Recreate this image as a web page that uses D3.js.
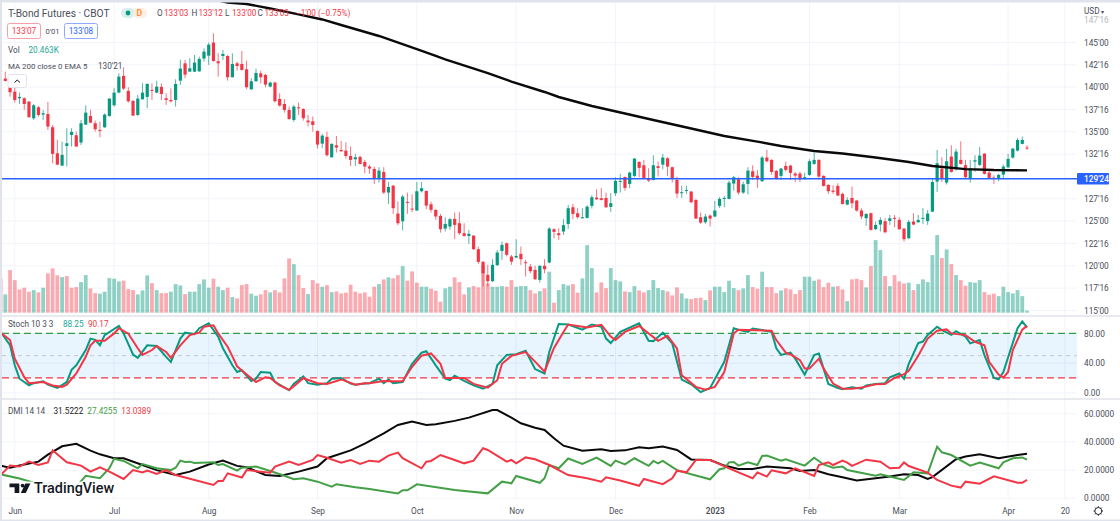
<!DOCTYPE html>
<html>
<head>
<meta charset="utf-8">
<script src="https://cdn.jsdelivr.net/npm/d3@7"></script>
<style>
  html, body { margin: 0; padding: 0; background: #fff; }
  svg { display: block; font-family: Roboto, "Noto Sans", sans-serif; }
  .axis path { display: none; }
  .axis text { fill: #4a4e59; font-size: 8.3px; font-family: Roboto, sans-serif; }
</style>
</head>
<body>
<div id="canvas"></div>
<script>
// OHLC, one entry per session (first one is cut by the left edge)
const opens = [
  141.8,140.96,139.99,139.50,138.76,138.76,138.38,136.52,137.75,136.93,
  137.0,135.51,132.60,131.22,133.42,134.65,134.62,133.80,135.81,136.78,
  135.96,135.21,135.51,136.78,137.97,139.39,141.26,139.58,138.46,136.89,
  138.64,138.91,139.69,139.39,140.03,138.76,138.57,138.57,140.73,142.67,
  141.74,141.74,141.78,143.20,143.53,144.99,142.90,143.49,143.49,141.11,
  142.67,142.60,142.0,139.76,140.66,141.55,141.37,140.06,140.51,138.68,
  138.12,137.45,136.33,137.75,137.56,136.26,136.18,135.10,133.68,134.43,
  132.15,133.50,132.97,132.90,132.30,131.93,132.19,131.63,131.11,130.85,
  129.80,130.51,128.20,128.98,125.85,124.99,127.16,126.41,126.19,128.35,
  128.39,126.89,126.26,125.59,124.17,124.40,125.25,124.77,123.65,123.35,
  123.39,121.86,120.44,118.99,118.28,120.07,121.67,122.53,121.04,120.93,
  121.34,120.40,119.92,119.55,118.43,120.0,120.37,124.10,123.65,123.84,
  124.69,126.56,125.89,125.33,125.37,126.71,127.64,127.57,127.60,126.60,
  128.13,129.43,129.95,129.17,130.07,131.63,131.26,129.77,129.62,131.15,
  131.33,132.04,131.04,129.62,128.13,128.39,128.31,127.38,125.44,124.88,
  125.63,125.52,126.71,127.53,127.49,129.21,129.69,128.20,129.17,130.59,
  130.10,129.47,132.12,131.86,130.62,130.07,131.18,131.22,130.33,130.33,
  129.84,130.18,131.41,131.86,130.07,129.06,128.42,128.95,128.05,126.86,
  127.60,127.31,126.19,125.33,125.89,124.10,124.62,124.99,125.03,125.37,
  125.14,124.17,123.09,124.96,124.88,125.29,125.0,126.07,129.43,130.89,
  129.32,132.23,130.81,131.86,131.26,129.77,131.67,131.30,132.56,130.44,
  129.88,129.84,130.21,131.03,132.12,132.90,133.65,133.24,
];
const closes = [
  141.7,140.70,139.43,138.57,138.91,138.12,136.63,137.97,136.89,137.08,
  135.59,132.53,131.33,132.42,133.72,134.99,133.35,135.96,137.15,136.03,
  135.29,135.17,136.93,138.72,139.39,141.18,139.84,138.42,136.82,138.72,
  139.39,140.36,139.61,140.06,139.24,138.57,138.42,140.36,142.08,141.40,
  142.11,142.75,143.16,143.98,144.76,142.93,142.67,143.72,141.11,142.60,
  142.37,141.93,139.99,140.66,141.59,141.11,140.29,140.51,138.42,137.94,
  137.45,136.44,137.82,137.67,136.52,136.07,135.77,133.57,134.58,132.38,
  133.65,133.24,132.83,132.30,131.86,132.15,131.41,131.11,130.89,129.80,
  130.66,128.20,128.83,126.45,124.77,127.75,127.08,126.37,128.35,128.69,
  126.75,126.26,125.52,124.10,124.69,125.22,124.58,123.65,123.35,123.58,
  121.86,120.44,119.17,118.28,120.11,121.49,122.35,121.23,120.48,121.11,
  120.74,120.37,119.40,118.50,120.0,119.62,124.17,123.80,123.43,124.55,
  126.45,125.81,125.44,125.44,126.63,127.68,127.45,127.38,126.56,127.01,
  129.51,129.51,128.72,130.44,132.0,130.96,129.84,129.54,131.26,130.96,
  132.12,131.11,129.77,128.09,128.24,128.50,127.12,125.29,124.84,125.52,
  125.29,126.19,127.49,127.60,129.32,129.92,128.20,129.13,130.66,129.95,
  129.69,132.12,131.71,130.51,129.73,130.89,130.74,130.40,130.10,129.69,
  129.92,131.71,131.86,129.99,128.95,128.35,128.28,127.87,126.93,127.38,
  127.01,126.19,125.52,125.81,124.02,124.58,125.14,123.76,125.33,125.29,
  124.10,122.98,124.92,124.62,125.14,125.37,125.85,129.39,131.48,129.77,
  131.71,130.51,132.79,131.41,129.92,130.92,131.82,132.34,130.29,129.84,
  129.80,130.18,131.11,131.97,133.12,134.09,134.09,133.20,
];
const highs = [
  141.85,141.74,141.0,139.99,139.39,138.87,138.46,138.12,137.90,137.45,
  138.35,135.77,134.09,133.91,135.40,135.40,135.03,136.33,137.97,137.45,
  136.26,136.15,137.08,138.76,139.87,141.55,142.23,139.99,138.57,139.13,
  140.43,140.43,140.43,140.73,140.43,139.32,139.87,140.88,143.05,143.05,
  143.23,143.60,143.42,144.35,144.99,146.03,143.79,144.17,143.60,143.79,
  142.86,144.05,142.97,141.0,142.08,141.85,141.48,140.62,140.62,139.32,
  138.64,137.82,138.01,138.27,137.64,136.89,136.71,135.14,134.77,135.03,
  133.72,134.54,133.98,133.83,133.35,132.53,132.34,131.86,131.30,131.11,
  131.04,131.04,129.39,129.02,127.19,127.94,128.20,128.01,129.39,129.39,
  128.42,127.19,126.37,125.81,125.44,125.37,125.96,126.0,124.77,124.02,
  123.39,122.16,120.55,120.11,120.74,121.78,122.72,122.61,121.23,122.98,
  122.16,120.67,120.22,120.0,120.07,120.74,124.32,124.21,124.21,125.22,
  126.82,126.93,126.45,126.45,126.78,127.90,128.57,128.72,128.20,128.13,
  129.92,130.29,129.99,130.55,132.08,131.71,131.86,130.92,132.38,131.67,
  132.53,132.15,131.11,129.99,128.98,128.98,128.39,127.45,125.96,125.81,
  125.74,127.27,127.68,127.83,129.54,130.07,129.92,129.43,131.04,131.26,
  130.74,132.30,132.97,131.93,130.74,130.96,131.67,131.30,130.51,130.51,
  130.44,131.93,132.68,131.93,130.14,129.13,129.02,129.25,128.20,127.68,
  128.87,127.38,126.45,125.89,125.96,124.96,125.44,125.33,125.70,125.70,
  125.44,124.21,125.14,125.89,125.70,126.45,126.26,129.69,132.97,132.15,
  133.09,133.50,133.12,133.94,131.86,131.86,132.38,133.31,132.60,130.74,
  130.14,130.29,131.33,132.53,133.20,134.28,134.47,133.5,
];
const lows = [
  141.5,140.62,138.94,138.27,138.12,137.45,136.63,136.33,136.70,136.33,
  135.21,131.48,131.30,131.18,131.11,133.35,133.35,133.53,135.77,135.96,
  135.03,134.39,135.44,136.70,137.82,139.32,139.69,138.27,136.78,136.78,
  138.64,137.64,138.57,139.32,138.57,138.01,138.27,137.82,140.25,141.0,
  141.74,141.70,141.70,142.86,142.49,142.86,141.18,143.05,140.73,141.11,
  141.85,141.85,139.76,139.69,140.62,140.43,139.99,139.99,138.27,137.82,
  137.15,136.33,136.11,136.89,136.26,135.59,135.03,133.12,133.16,132.23,
  132.12,132.68,132.75,132.0,131.18,131.18,131.33,130.36,130.29,129.17,
  129.32,128.05,126.93,125.81,124.55,123.95,125.81,126.0,126.15,128.20,
  126.34,125.96,125.14,123.72,123.84,124.02,122.98,123.46,123.28,122.46,
  121.78,120.22,117.68,117.68,118.20,120.0,120.67,121.04,120.11,120.85,
  120.11,118.80,119.17,118.43,118.13,119.17,120.29,123.09,122.90,123.46,
  124.13,125.22,125.29,125.29,125.29,126.41,127.38,127.31,126.48,126.04,
  127.83,128.20,128.42,128.69,129.92,129.92,129.69,129.39,129.54,129.99,
  130.81,130.07,129.32,127.60,127.60,128.05,127.01,125.25,124.69,124.69,
  124.40,125.44,126.48,126.56,127.45,128.42,127.98,128.05,127.98,129.62,
  128.72,129.39,131.56,130.22,129.62,129.62,130.55,129.62,129.39,129.39,
  129.62,130.07,131.30,129.69,128.87,128.05,128.05,127.83,126.86,126.78,
  126.45,126.07,125.22,124.47,123.95,124.02,123.84,123.65,124.58,124.32,
  124.02,122.72,122.98,124.55,124.77,124.69,124.58,126.04,128.28,129.39,
  129.10,130.44,130.66,131.33,129.80,129.32,130.51,131.18,130.21,129.77,
  129.17,129.47,129.69,130.92,132.0,132.79,133.61,133.0,
];
// volume in thousands of contracts
const volumes = [
  343,183,426,326,233,250,210,226,203,250,
  393,443,373,356,366,250,256,306,376,243,
  196,190,210,346,340,313,320,236,226,183,
  223,373,296,226,196,196,210,286,273,186,
  210,210,286,333,250,340,260,226,250,156,
  143,276,286,190,170,183,226,203,226,203,
  343,543,486,376,246,186,326,293,260,276,
  206,213,193,200,280,210,193,203,160,260,
  286,333,353,343,376,466,320,413,300,260,
  260,240,220,110,243,260,353,306,183,253,
  266,253,476,293,260,260,266,260,326,260,
  266,266,226,193,216,243,410,100,226,286,
  273,286,200,343,676,446,203,303,246,446,
  326,313,213,206,266,223,203,226,326,246,
  226,213,173,253,193,143,136,146,150,126,
  223,260,260,206,320,246,226,243,376,256,
  240,410,256,256,196,223,243,233,186,226,
  360,360,320,333,256,300,260,266,233,116,
  333,340,326,253,466,726,626,366,266,376,
  313,293,300,226,286,333,306,576,776,546,
  633,486,376,326,270,306,300,326,206,180,
  190,166,260,206,193,226,166,20.463,
];
// the volume colour does not always follow the candle: G up, R down
const volumeDirs = [
  'RGRRRRRGRG','RRRGRRRGGR','RGGGGGRRRG','GGRGRRGGGR','GGGGGRGGRG','RRRGGRRGRR',
  'RRGRRGRRGR','GRRRRRRRRR','GRGRRGRRRG','GRRRGGRRRG','RRRRGGGRRG','GGRRGRGRGG',
  'GRRGGGRRRG','GGRGGRRGGG','GRRRGGRRRG','RGGGGGRGGR','RGRRRGRRRR','GGGRRRGRRG',
  'RRRGRGGRGR','RRGRGGGGGR','GRGRRGGGRR','RGGGGGGG',
].join('');

// indicator lines: [session, value] pairs read at the turning points
const ema200 = [
  [46,149.7],[48,149.48],[52,149.31],[57,148.81],[63,148.14],[68,147.58],[72,146.96],[80,145.73],
  [88,144.27],[92,143.49],[94,143.1],[103,141.58],[108,140.63],[115,139.46],[118,138.9],[125,137.89],
  [132,137.05],[138,136.32],[146,135.37],[153,134.53],[160,133.91],[165,133.41],[172,132.85],
  [178,132.57],[185,132.12],[192,131.62],[197,131.17],[204,130.83],[210,130.72],[217,130.69],
];
const stochK = [
  [0,82],[2,64],[3,37],[4,19],[6,10],[7,13],[9,15.5],[10,11],[12,6.5],[14,14.6],[15,31],[16,37],
  [18,57.5],[19,73],[20,71.4],[21,64],[22,77.7],[25,90],[26,80],[28,51.6],[29,47],[31,64],[33,63],
  [35,48.4],[36,41.7],[38,73],[39,81],[41,79],[42,87],[44,93.5],[46,75.5],[47,60],[49,37],[50,28],
  [51,30.4],[53,16],[54,19],[55,28],[57,27],[58,14.6],[61,3.4],[62,12.4],[64,22],[65,13],[67,11],
  [69,13],[70,19],[72,20],[74,12.4],[75,11],[77,12.4],[78,13],[80,19],[81,13],[82,18],[83,13],
  [85,14.6],[87,39],[89,54],[90,56],[92,37],[94,19],[95,17],[96,23],[98,16],[100,10],[102,5.6],
  [104,12],[105,37],[107,51],[109,52],[111,56.5],[113,32],[115,26],[116,55],[118,92.6],[120,92],
  [123,85],[125,92],[127,89],[128,73],[129,67],[131,82],[135,93.5],[137,70],[138,69.6],[140,81],
  [142,66.5],[144,17.8],[146,11.5],[148,1],[150,6.5],[153,41.7],[155,86.8],[156,85],[158,82],
  [159,86.5],[161,84.5],[163,82],[164,60],[165,51],[167,54],[168,46],[170,24.5],[172,50.7],[173,53],
  [175,12],[177,6.5],[178,4.7],[180,7.4],[182,5.6],[183,10],[185,12],[187,13],[188,21],[190,26],
  [191,19],[192,39],[194,67],[195,69],[196,78],[198,89],[199,84.5],[201,78],[202,83],[204,75.5],
  [205,66.5],[207,71],[208,50.7],[210,20],[211,18],[212,28],[215,87],[216,96],[217,88.25],
];
const stochD = [
  [0,81],[2,71],[3,46],[5,21],[6,13],[9,14.5],[11,9.9],[13,8],[14,11],[16,26],[18,48.4],[19,64],
  [20,70],[22,70],[24,80],[25,87],[27,79.7],[29,60],[30,51],[32,57.6],[33,63],[35,55],[36,47],
  [38,64],[40,77.7],[42,81],[43,89],[45,91],[46,80],[48,62],[49,49],[50,35.7],[51,30],[54,14.6],
  [56,21],[57,20],[59,9.9],[61,3.9],[62,9],[64,19.6],[67,13],[69,12],[72,18],[75,10.9],[77,13],
  [78,13],[81,16],[83,15.5],[85,15.5],[87,35],[89,50],[91,53],[93,39],[94,20],[98,20],[100,12],
  [103,7],[105,17],[106,39],[108,49.7],[111,54.8],[113,42],[115,28.5],[117,60.4],[119,82],[120,92],
  [123,89],[124,88],[127,91.5],[129,75.7],[130,71],[132,82],[135,90],[139,70],[141,76.8],[143,59.7],
  [144,23.6],[147,8],[149,4.2],[151,8],[153,28],[155,80],[156,85],[163,83.6],[164,71],[166,54],
  [167,51.6],[169,44],[170,32.6],[171,32.6],[173,46],[174,32.6],[176,12.4],[178,5.6],[180,5.6],
  [182,7],[185,11.5],[187,12],[189,20],[191,25],[192,29.5],[194,50],[196,73],[198,83.6],[200,85.4],
  [201,80],[204,77.7],[206,68.7],[208,64],[209,41.7],[211,24.5],[212,20.5],[213,28],[214,57.5],
  [216,85],[217,90.17],
];
const adx = [
  [0,23.2],[2,21.7],[4,23.2],[8,26],[10,31],[13,36.9],[16,38.6],[19,33.8],[21,31.2],[24,28.4],
  [26,28.4],[30,23.6],[33,20],[37,16.5],[40,18.9],[44,24],[47,26.7],[50,23],[52,22],[56,16.5],
  [59,15.8],[63,18.9],[67,22.5],[69,28.4],[74,34],[77,38.8],[81,46.1],[84,52],[87,54.4],[90,52],
  [92,52.5],[96,54.9],[99,57.2],[104,62.6],[105,62.6],[108,57.2],[110,53.2],[113,50],[115,48.5],
  [117,42.6],[119,37.3],[123,33.8],[127,34.7],[129,33.6],[132,34],[135,36.2],[137,35.5],[140,36.7],
  [143,34.3],[146,27.6],[150,27.2],[153,23.2],[156,20.8],[159,20.8],[162,22.5],[167,21.3],[169,19.4],
  [172,20],[175,17],[178,14.9],[181,12.6],[185,14.2],[188,15.4],[191,17],[194,16.5],[196,13.7],
  [197,15],[202,27.7],[204,29.6],[207,31.2],[211,28.4],[215,30.7],[217,31.52],
];
const diPlus = [
  [0,17],[4,14],[7,11],[11,10.6],[16,8.3],[18,16],[21,14.2],[23,21.3],[24,28],[26,26.5],[29,21.3],
  [30,24.3],[33,21.3],[36,20],[37,21.7],[38,26.7],[39,25.8],[40,26],[41,25],[45,25.5],[46,23.6],
  [47,24.3],[50,19.6],[51,21.7],[54,22.5],[57,19.4],[60,16],[62,13.5],[64,14.2],[67,11.8],[70,8.3],
  [71,10],[75,7.8],[78,6.6],[84,3.5],[85,5.7],[86,5.7],[88,9.9],[96,5.9],[103,3.5],[106,11.8],
  [108,10.6],[109,15.8],[114,11],[115,14.2],[116,23.6],[118,21.3],[120,28.2],[123,24.3],[126,28.8],
  [129,23],[130,26.7],[132,24.1],[134,28.4],[137,23],[138,26.5],[139,24.8],[140,26.5],[143,20],
  [146,17],[150,13.5],[152,20.6],[153,21.3],[154,25.5],[155,25.8],[156,23.2],[158,25.5],[160,23.6],
  [161,30],[162,30.3],[165,26.7],[166,27.7],[170,23.2],[172,28.8],[174,24],[176,21.7],[178,22.5],
  [179,20],[185,16],[186,17],[191,13],[193,18.4],[196,17.7],[198,36.6],[199,32.6],[201,30.7],
  [205,23.2],[207,25.3],[211,21.3],[212,25.5],[214,28.4],[216,29],[217,27.43],
];
const diMinus = [
  [0,16.5],[2,23.2],[4,22.5],[6,26],[8,23.6],[10,25.5],[11,34],[14,25.5],[17,23.2],[19,18.9],[21,22],
  [23,18.9],[26,13.7],[28,20],[30,18.4],[31,19.6],[33,17.3],[35,20],[37,16.5],[45,9.5],[46,12.3],
  [47,12.3],[48,17.7],[51,14.7],[52,20],[57,18.2],[58,22.5],[61,26],[63,23.6],[66,27.2],[67,30.7],
  [69,28.8],[72,25.3],[74,27.2],[76,24.3],[78,26.7],[80,26],[82,30.3],[84,32.4],[85,28.4],[89,21.3],
  [90,26],[91,26.5],[93,30.7],[96,27.2],[98,24.8],[100,26.7],[102,35.5],[103,34.3],[107,26],[108,27.2],
  [109,24.8],[111,29],[113,27.7],[116,23.6],[118,20],[120,16.5],[124,14.2],[127,11.8],[128,14.9],
  [131,12.6],[135,8.9],[136,13.7],[140,10],[142,14.2],[143,19.6],[145,18.4],[147,27.2],[150,27.2],
  [154,21.3],[156,18.4],[159,14.2],[160,18.4],[162,15.4],[163,19.9],[166,17.7],[168,21.3],[172,15.9],
  [173,23.6],[175,25.5],[176,23.6],[178,26.7],[179,25.3],[180,23],[183,27.4],[186,26],[188,21.3],
  [190,21.7],[191,25.5],[192,22.9],[196,18.2],[198,13],[201,9],[203,7.6],[204,11.8],[207,10.4],
  [210,15.6],[215,11],[216,11],[217,13.04],
];

const currentPrice = 129.75;
const priceTicks = [145, 142.5, 140, 137.5, 135, 132.5, 127.5, 125, 122.5, 120, 117.5, 115];
const priceTickLabels = ["145'00", "142'16", "140'00", "137'16", "135'00", "132'16", "127'16", "125'00", "122'16", "120'00", "117'16", "115'00"];
const stochTicks = [80, 40, 0];
const stochTickLabels = ['80.00', '40.00', '0.00'];
const dmiTicks = [60, 40, 20, 0];
const dmiTickLabels = ['60.0000', '40.0000', '20.0000', '0.0000'];
const timeTicks = [3, 24, 44, 67, 88, 109, 130, 151, 171, 190, 213, 225];
const timeTickLabels = ['Jun', 'Jul', 'Aug', 'Sep', 'Oct', 'Nov', 'Dec', '2023', 'Feb', 'Mar', 'Apr', '20'];

const width = 1120;
const height = 521;
const left = 2;
const right = 1077;
const upColor = '#089981';
const downColor = '#f23645';
const greenLine = '#43a047';
const gridColor = '#f2f4f9';
const borderColor = '#e0e3eb';
const textColor = '#4a4e59';

const xScale = d3.scaleLinear().domain([0, 217]).range([0.6, 1027]);
const yPrice = d3.scaleLinear().domain([115, 145]).range([310.5, 42.5]);
const yVolume = d3.scaleLinear().domain([0, 790]).range([312.7, 233.7]);
const yStoch = d3.scaleLinear().domain([0, 80]).range([392.8, 333.4]);
const yDmi = d3.scaleLinear().domain([0, 60]).range([498.3, 413.7]);

const svg = d3
  .select('#canvas')
  .append('svg')
  .attr('width', width)
  .attr('height', height);

svg.append('rect').attr('width', width).attr('height', height).attr('fill', borderColor);
svg.append('rect').attr('x', left).attr('y', 2.5).attr('width', width - left).attr('height', 517).attr('fill', '#fff');

const defs = svg.append('defs');
const addClip = (id, y0, y1) =>
  defs.append('clipPath').attr('id', id).append('rect')
    .attr('x', left).attr('y', y0).attr('width', right - left).attr('height', y1 - y0);
addClip('clipMain', 2.5, 315);
addClip('clipStoch', 317, 398);
addClip('clipDmi', 400, 499.5);

// grid
const grid = svg.append('g').attr('stroke', gridColor).attr('stroke-width', 1);
const hGrid = (scale, ticks) => {
  grid.append('g').selectAll('line').data(ticks).enter().append('line')
    .attr('x1', left).attr('x2', right)
    .attr('y1', d => scale(d)).attr('y2', d => scale(d));
};
hGrid(yPrice, priceTicks);
hGrid(yStoch, stochTicks);
hGrid(yDmi, dmiTicks);
grid.append('g').selectAll('line').data(timeTicks).enter().append('line')
  .attr('x1', d => xScale(d)).attr('x2', d => xScale(d))
  .attr('y1', 3).attr('y2', 499.5);

// main pane
const main = svg.append('g').attr('clip-path', 'url(#clipMain)');

main.append('g').selectAll('rect').data(volumes).enter().append('rect')
  .attr('x', (d, i) => xScale(i) - 1.9)
  .attr('width', 3.8)
  .attr('y', d => yVolume(d))
  .attr('height', d => yVolume(0) - yVolume(d))
  .attr('fill', (d, i) => (volumeDirs[i] === 'G' ? upColor : downColor))
  .attr('fill-opacity', (d, i) => (volumeDirs[i] === 'G' ? 0.45 : 0.42));

const candles = main.append('g').selectAll('g').data(opens).enter().append('g');
const candleColor = i => (closes[i] < opens[i] ? downColor : upColor);
candles.append('line')
  .attr('x1', (d, i) => xScale(i)).attr('x2', (d, i) => xScale(i))
  .attr('y1', (d, i) => yPrice(highs[i])).attr('y2', (d, i) => yPrice(lows[i]))
  .attr('stroke', (d, i) => candleColor(i))
  .attr('stroke-opacity', 0.7)
  .attr('stroke-width', 1);
candles.append('rect')
  .attr('x', (d, i) => xScale(i) - 1.6)
  .attr('width', 3.2)
  .attr('y', (d, i) => yPrice(Math.max(opens[i], closes[i])))
  .attr('height', (d, i) => Math.max(1, Math.abs(yPrice(opens[i]) - yPrice(closes[i]))))
  .attr('fill', (d, i) => candleColor(i));

const seriesLine = scale => d3.line().x(d => xScale(d[0])).y(d => scale(d[1]));

main.append('path')
  .attr('d', seriesLine(yPrice)(ema200))
  .attr('fill', 'none')
  .attr('stroke', '#0a0a0a')
  .attr('stroke-width', 2.4);

main.append('line')
  .attr('x1', left).attr('x2', right)
  .attr('y1', yPrice(currentPrice)).attr('y2', yPrice(currentPrice))
  .attr('stroke', '#2962ff')
  .attr('stroke-width', 1.5);

// stochastic pane
const stoch = svg.append('g').attr('clip-path', 'url(#clipStoch)');
stoch.append('rect')
  .attr('x', left).attr('width', right - left)
  .attr('y', yStoch(80)).attr('height', yStoch(20) - yStoch(80))
  .attr('fill', '#2196f3').attr('fill-opacity', 0.1);
[[80, '#2ea043'], [50, '#c4c8d0'], [20, downColor]].forEach(([level, color]) => {
  stoch.append('line')
    .attr('x1', left).attr('x2', right)
    .attr('y1', yStoch(level)).attr('y2', yStoch(level))
    .attr('stroke', color)
    .attr('stroke-width', level === 50 ? 1 : 1.3)
    .attr('stroke-dasharray', level === 50 ? '4 4' : '7 4');
});
stoch.append('path').attr('d', seriesLine(yStoch)(stochK))
  .attr('fill', 'none').attr('stroke', upColor).attr('stroke-width', 2);
stoch.append('path').attr('d', seriesLine(yStoch)(stochD))
  .attr('fill', 'none').attr('stroke', downColor).attr('stroke-width', 2);

// DMI pane
const dmi = svg.append('g').attr('clip-path', 'url(#clipDmi)');
dmi.append('path').attr('d', seriesLine(yDmi)(adx))
  .attr('fill', 'none').attr('stroke', '#0a0a0a').attr('stroke-width', 2);
dmi.append('path').attr('d', seriesLine(yDmi)(diPlus))
  .attr('fill', 'none').attr('stroke', greenLine).attr('stroke-width', 2);
dmi.append('path').attr('d', seriesLine(yDmi)(diMinus))
  .attr('fill', 'none').attr('stroke', downColor).attr('stroke-width', 2);

// pane separators
[316, 399].forEach(y => {
  svg.append('line').attr('x1', left).attr('x2', width).attr('y1', y).attr('y2', y)
    .attr('stroke', borderColor).attr('stroke-width', 1.4);
});

// axes
const valueAxis = (scale, ticks, labels) =>
  d3.axisRight(scale).tickValues(ticks).tickFormat((d, i) => labels[i]).tickSize(0).tickPadding(7);
svg.append('g').attr('class', 'axis').attr('transform', `translate(${right},0)`)
  .call(valueAxis(yPrice, priceTicks, priceTickLabels));
svg.append('g').attr('class', 'axis').attr('transform', `translate(${right},0)`)
  .call(valueAxis(yStoch, stochTicks, stochTickLabels));
svg.append('g').attr('class', 'axis').attr('transform', `translate(${right},0)`)
  .call(valueAxis(yDmi, dmiTicks, dmiTickLabels));
const timeAxis = svg.append('g').attr('class', 'axis').attr('transform', 'translate(0,502)')
  .call(d3.axisBottom(xScale).tickValues(timeTicks).tickFormat((d, i) => timeTickLabels[i]).tickSize(0).tickPadding(6));
timeAxis.selectAll('text').filter((d, i) => timeTickLabels[i] === '2023').attr('font-weight', 600);

const label = (x, y, text, color, size = 8.2, weight = 400) =>
  svg.append('text').attr('x', x).attr('y', y).attr('fill', color)
    .attr('font-size', size).attr('font-weight', weight).text(text);

// last price flag
svg.append('rect').attr('x', right).attr('y', yPrice(currentPrice) - 5.8)
  .attr('width', 32).attr('height', 11.6).attr('rx', 1).attr('fill', '#2962ff');
label(1084, yPrice(currentPrice) + 3, "129'24", '#fff', 8.3, 500);
label(1084, 14, 'USD', textColor);
label(1101, 14, '▾', textColor, 6);
label(1084, 22.6, "147'16", '#b5b8c0', 8.3);

// header legend
label(8, 16.8, 'T-Bond Futures · CBOT', textColor, 10.2);
svg.append('rect').attr('x', 121).attr('y', 8).attr('width', 14).attr('height', 10).attr('rx', 5).attr('fill', '#d8efeb');
svg.append('rect').attr('x', 133).attr('y', 8).attr('width', 14).attr('height', 10).attr('rx', 5).attr('fill', '#fdeee3');
svg.append('circle').attr('cx', 128).attr('cy', 13).attr('r', 2.4).attr('fill', upColor);
label(136.6, 16.2, 'D', '#f7953b', 8.6, 700);

[
  [157, 'O', "133'03"],
  [191.5, 'H', "133'12"],
  [225, 'L', "133'00"],
  [257.5, 'C', "133'03"],
].forEach(([x, key, value]) => {
  label(x, 16.3, key, textColor);
  label(x + 7, 16.3, value, downColor);
});
label(296, 16.3, "−1'00 (−0.75%)", downColor);

// bid / ask boxes
svg.append('rect').attr('x', 7.5).attr('y', 23.5).attr('width', 33).attr('height', 15).attr('rx', 2)
  .attr('fill', '#fff').attr('stroke', '#f7a0a7');
label(24, 34, "133'07", downColor).attr('text-anchor', 'middle');
label(52.5, 34, "0'01", textColor, 7.6).attr('text-anchor', 'middle');
svg.append('rect').attr('x', 64.5).attr('y', 23.5).attr('width', 33).attr('height', 15).attr('rx', 2)
  .attr('fill', '#fff').attr('stroke', '#8fa9ff');
label(81, 34, "133'08", '#2962ff').attr('text-anchor', 'middle');

label(8, 53, 'Vol', textColor);
label(28.5, 53, '20.463K', '#26a69a');
label(8, 69, 'MA 200 close 0 EMA 5', textColor, 7.9);
label(98, 69, "130'21", textColor);

// collapse button
svg.append('rect').attr('x', 8).attr('y', 74.5).attr('width', 18.5).attr('height', 13).attr('rx', 2)
  .attr('fill', '#fff').attr('stroke', borderColor);
svg.append('path').attr('d', 'M14.5 82.5 L17.2 80 L20 82.5').attr('fill', 'none').attr('stroke', '#131722');

// indicator legends
label(8, 327, 'Stoch 10 3 3', textColor);
label(63, 327, '88.25', '#26a69a');
label(88, 327, '90.17', downColor);
label(8, 413.7, 'DMI 14 14', textColor);
label(53.5, 413.7, '31.5222', '#222');
label(87.3, 413.7, '27.4255', greenLine);
label(121.3, 413.7, '13.0389', downColor);

// TradingView mark, sits on a soft white plate above the lines
svg.append('rect').attr('x', 7).attr('y', 481.5).attr('width', 108).attr('height', 15).attr('rx', 3)
  .attr('fill', '#fff').attr('fill-opacity', 0.9);
const logo = svg.append('g').attr('fill', '#131722');
logo.append('path').attr('d', 'M9.5 483.5 H19.3 V493 H14.6 V487.3 H9.5 Z');
logo.append('circle').attr('cx', 22.6).attr('cy', 485.6).attr('r', 1.9);
logo.append('path').attr('d', 'M25.4 483.5 H30.4 L25.8 493 H20.8 Z');
label(34, 493, 'TradingView', '#131722', 14.4, 500);

// settings gear
const gear = svg.append('g').attr('transform', 'translate(1098.3,511)');
gear.append('circle').attr('r', 3.5).attr('fill', 'none').attr('stroke', '#131722').attr('stroke-width', 0.9);
gear.selectAll('line').data(d3.range(8)).enter().append('line')
  .attr('x1', d => 3.4 * Math.cos(d * Math.PI / 4)).attr('y1', d => 3.4 * Math.sin(d * Math.PI / 4))
  .attr('x2', d => 4.7 * Math.cos(d * Math.PI / 4)).attr('y2', d => 4.7 * Math.sin(d * Math.PI / 4))
  .attr('stroke', '#131722').attr('stroke-width', 1);
</script>
</body>
</html>
